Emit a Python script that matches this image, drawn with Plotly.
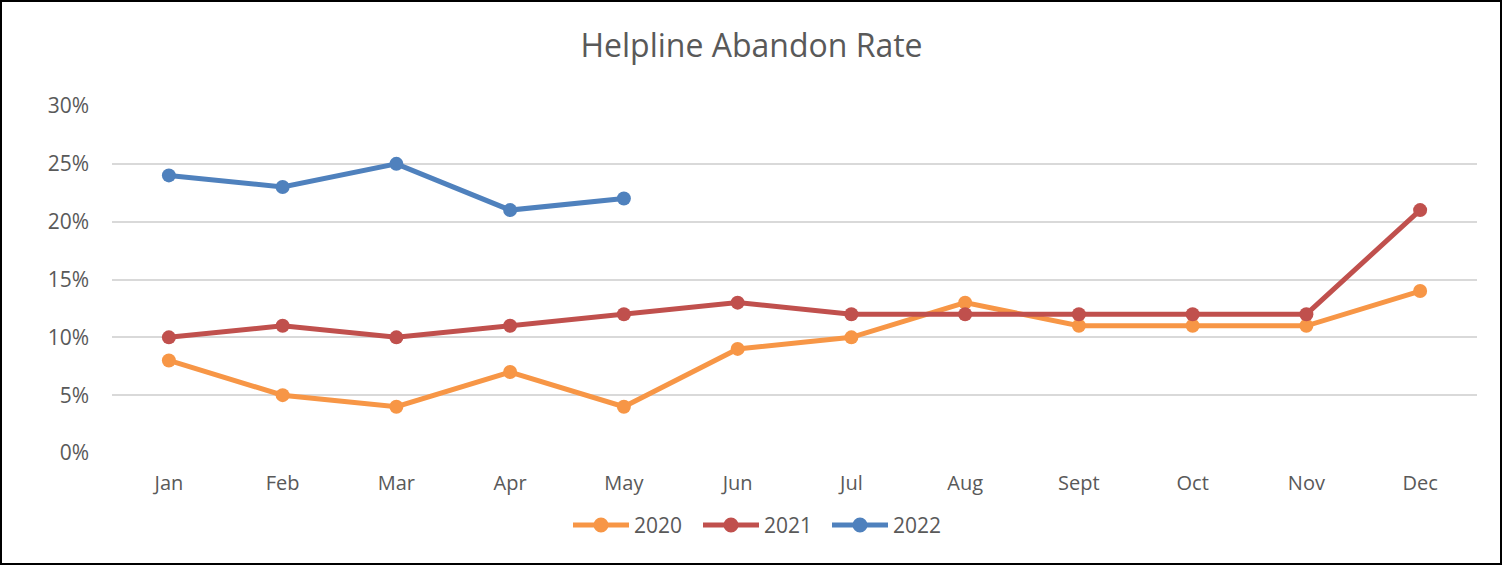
import plotly.graph_objects as go

months = ["Jan", "Feb", "Mar", "Apr", "May", "Jun", "Jul", "Aug", "Sept", "Oct", "Nov", "Dec"]
rate_2020 = [0.08, 0.05, 0.04, 0.07, 0.04, 0.09, 0.10, 0.13, 0.11, 0.11, 0.11, 0.14]
rate_2021 = [0.10, 0.11, 0.10, 0.11, 0.12, 0.13, 0.12, 0.12, 0.12, 0.12, 0.12, 0.21]
rate_2022 = [0.24, 0.23, 0.25, 0.21, 0.22]

series = [
    ("2020", rate_2020, "#F79646"),
    ("2021", rate_2021, "#C0504D"),
    ("2022", rate_2022, "#4F81BD"),
]

W, H = 1503, 566
L, R, T, B = 112, 26, 106, 113
pw, ph = W - L - R, H - T - B


def px_x(x):
    return (x - L) / pw


def px_y(y):
    return (T + ph - y) / ph


fig = go.Figure()
for name, vals, color in series:
    fig.add_trace(go.Scatter(
        x=months[:len(vals)], y=vals, name=name, mode="lines+markers",
        line=dict(color=color, width=5),
        marker=dict(color=color, size=14),
        showlegend=False,
    ))

font_color = "#595959"
fig.update_layout(
    width=W, height=H,
    margin=dict(l=L, r=R, t=T, b=B),
    paper_bgcolor="white", plot_bgcolor="white",
    font=dict(family="Open Sans", color=font_color, size=20),
    title=dict(text="Helpline Abandon Rate", x=0.5, xanchor="center",
               y=1 - 46 / H, yanchor="middle",
               font=dict(size=32, color=font_color)),
    xaxis=dict(type="category", range=[-0.5, 11.5], showgrid=False,
               showline=False, zeroline=False, ticks="", ticklabelstandoff=16,
               tickfont=dict(size=20, color=font_color)),
    yaxis=dict(range=[0, 0.30], dtick=0.05, tickformat=".0%",
               showgrid=True, gridcolor="#D9D9D9", gridwidth=2,
               zeroline=False, showline=False, ticks="", ticklabelstandoff=22,
               tickfont=dict(size=21, color=font_color)),
    showlegend=False,
)

# legend row: line + dot + label for each year
legend_y = 525
legend_x0 = [573, 703, 832]
for (name, _, color), x0 in zip(series, legend_x0):
    fig.add_shape(type="line", xref="paper", yref="paper",
                  x0=px_x(x0), x1=px_x(x0 + 56), y0=px_y(legend_y), y1=px_y(legend_y),
                  line=dict(color=color, width=5))
    fig.add_shape(type="circle", xref="paper", yref="paper",
                  x0=px_x(x0 + 28 - 7.5), x1=px_x(x0 + 28 + 7.5),
                  y0=px_y(legend_y + 7.5), y1=px_y(legend_y - 7.5),
                  line=dict(width=0), fillcolor=color)
    fig.add_annotation(text=name, xref="paper", yref="paper",
                       x=px_x(x0 + 59), y=px_y(legend_y), xanchor="left", yanchor="middle",
                       showarrow=False, font=dict(size=21, color=font_color))

# outer frame around the chart
fig.add_shape(type="rect", xref="paper", yref="paper",
              x0=px_x(1), x1=px_x(W - 2),
              y0=px_y(H - 2), y1=px_y(1),
              line=dict(color="black", width=2), fillcolor="rgba(0,0,0,0)",
              layer="above")

fig.write_html("out.html")
